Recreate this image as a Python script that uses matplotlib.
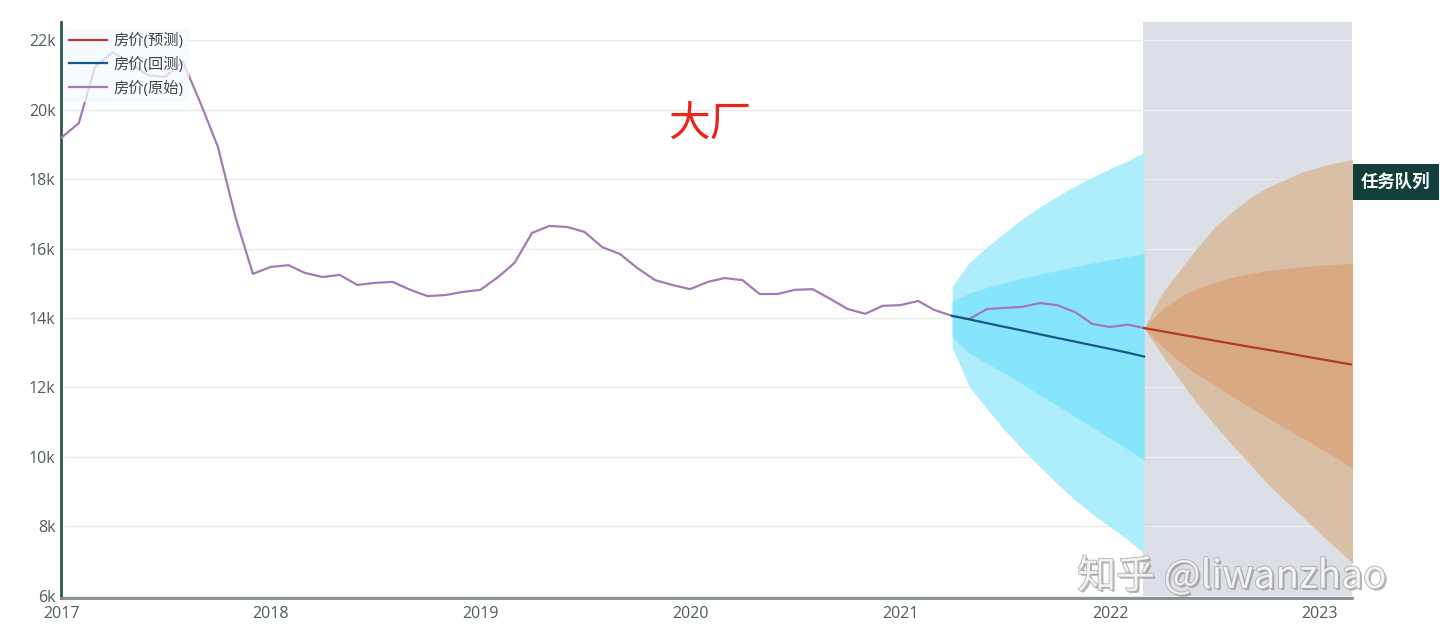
import matplotlib
matplotlib.use("Agg")
import matplotlib.pyplot as plt
import matplotlib.patheffects as pe
import pandas as pd
from matplotlib.ticker import FuncFormatter

plt.rcParams['font.family'] = ['Open Sans', 'Noto Sans CJK SC', 'DejaVu Sans']

# 房价(原始), monthly from 2017-01
orig_dates = pd.date_range('2017-01-01', periods=63, freq='MS')
price_orig = [19180, 19610, 21220, 21650, 21330, 20990, 20940, 21380, 20180, 18930,
              16880, 15270, 15470, 15520, 15300, 15180, 15240, 14950, 15010, 15040,
              14810, 14630, 14660, 14750, 14810, 15180, 15580, 16450, 16650, 16620,
              16480, 16040, 15840, 15440, 15090, 14950, 14830, 15040, 15150, 15090,
              14690, 14690, 14810, 14830, 14550, 14260, 14120, 14350, 14370, 14490,
              14230, 14060, 13970, 14260, 14290, 14320, 14430, 14370, 14170, 13830,
              13740, 13810, 13710]

# 房价(回测), 2021-04 .. 2022-03
back_dates = pd.date_range('2021-04-01', periods=12, freq='MS')
back_mid = [14060, 13960, 13850, 13745, 13640, 13530, 13425, 13320, 13215, 13110, 13000, 12890]
back_in_hi = [14470, 14720, 14880, 15010, 15140, 15260, 15370, 15480, 15580, 15680, 15770, 15860]
back_in_lo = [13460, 12980, 12690, 12420, 12100, 11790, 11480, 11160, 10850, 10540, 10220, 9910]
back_out_hi = [14900, 15600, 16050, 16450, 16850, 17200, 17500, 17800, 18050, 18300, 18530, 18760]
back_out_lo = [13170, 12020, 11380, 10780, 10230, 9720, 9230, 8760, 8360, 7990, 7610, 7230]

# 房价(预测), 2022-03 .. 2023-03
fc_dates = pd.date_range('2022-03-01', periods=13, freq='MS')
fc_mid = [13710, 13620, 13530, 13440, 13350, 13260, 13170, 13090, 13000, 12910, 12820, 12730, 12650]
fc_in_hi = [13710, 14250, 14600, 14850, 15020, 15170, 15280, 15360, 15420, 15470, 15520, 15550, 15580]
fc_in_lo = [13710, 13200, 12750, 12380, 12080, 11750, 11440, 11140, 10840, 10560, 10250, 9950, 9650]
fc_out_hi = [13710, 14700, 15350, 16000, 16600, 17050, 17450, 17750, 17980, 18200, 18350, 18480, 18560]
fc_out_lo = [13710, 12950, 12250, 11550, 10950, 10350, 9800, 9250, 8750, 8300, 7800, 7350, 6900]

year_ticks = ['2017', '2018', '2019', '2020', '2021', '2022', '2023']
y_ticks = [6000, 8000, 10000, 12000, 14000, 16000, 18000, 20000, 22000]

W, H = 1440, 635
fig = plt.figure(figsize=(W / 100, H / 100), dpi=100)
ax = fig.add_axes([61 / W, 1 - 598 / H, (1352 - 61) / W, (598 - 22) / H])

x_end = pd.Timestamp('2023-02-26')
ax.axvspan(pd.Timestamp('2022-02-27'), x_end, color='#dce0e6', zorder=0, lw=0)

ax.fill_between(back_dates, back_out_lo, back_out_hi, color='#aeedfb', lw=0, zorder=1)
ax.fill_between(back_dates, back_in_lo, back_in_hi, color='#84e5fb', lw=0, zorder=1.1)
ax.fill_between(fc_dates, fc_out_lo, fc_out_hi, color='#d8bfa6', lw=0, zorder=1)
ax.fill_between(fc_dates, fc_in_lo, fc_in_hi, color='#d9a983', lw=0, zorder=1.1)

l_orig, = ax.plot(orig_dates, price_orig, color='#a37ab3', lw=1.6, zorder=3)
l_back, = ax.plot(back_dates, back_mid, color='#17588a', lw=1.6, zorder=4)
l_fc, = ax.plot(fc_dates, fc_mid, color='#b03b26', lw=1.6, zorder=4)

ax.set_xlim(pd.Timestamp('2017-01-01'), x_end)
ax.set_ylim(5940, 22520)
ax.set_yticks(y_ticks)
ax.yaxis.set_major_formatter(FuncFormatter(lambda v, p: f"{int(v / 1000)}k"))
ax.set_xticks([pd.Timestamp(y + '-01-01') for y in year_ticks])
ax.set_xticklabels(year_ticks)

ax.set_axisbelow(True)
ax.yaxis.grid(True, color='#e9ebed', lw=1)
ax.tick_params(length=0, labelsize=11.5, colors='#4f5c5e')
ax.tick_params(axis='y', pad=4)
ax.tick_params(axis='x', pad=6)

for s in ['top', 'right']:
    ax.spines[s].set_visible(False)
ax.spines['left'].set_color('#2b5853')
ax.spines['left'].set_linewidth(2)
ax.spines['bottom'].set_color('#828c8e')
ax.spines['bottom'].set_linewidth(2)

leg = ax.legend([l_fc, l_back, l_orig], ['房价(预测)', '房价(回测)', '房价(原始)'],
                loc='upper left', bbox_to_anchor=(0.0, 0.994), borderaxespad=0.15,
                fontsize=11, handlelength=2.5, handletextpad=0.45, labelspacing=0.5,
                frameon=True, fancybox=False, borderpad=0.35)
leg.get_frame().set_facecolor('#f3faff')
leg.get_frame().set_alpha(0.75)
leg.get_frame().set_edgecolor('none')
for t in leg.get_texts():
    t.set_color('#444444')

fig.text(710 / W, 1 - 125 / H, '大厂', color='#e8261c', fontsize=30,
         family=['Noto Sans CJK SC'], ha='center', va='center')

fig.text(1396 / W, 1 - 182 / H, '任务队列', color='white', fontsize=12.5, fontweight='bold',
         family=['Noto Sans CJK SC'], ha='center', va='center',
         bbox=dict(boxstyle='square,pad=0.5', fc='#133f3b', ec='none'))

fig.text(1232 / W, 1 - 577 / H, '知乎 @liwanzhao', color='#f6f6f6', fontsize=28,
         family=['Noto Sans CJK SC', 'DejaVu Sans'], ha='center', va='center', alpha=0.85,
         path_effects=[pe.withSimplePatchShadow(offset=(1.5, -1.5), shadow_rgbFace='#777777', alpha=0.5),
                       pe.withStroke(linewidth=1.2, foreground='#a8a8a8')])

fig.savefig('out.png', dpi=100)
